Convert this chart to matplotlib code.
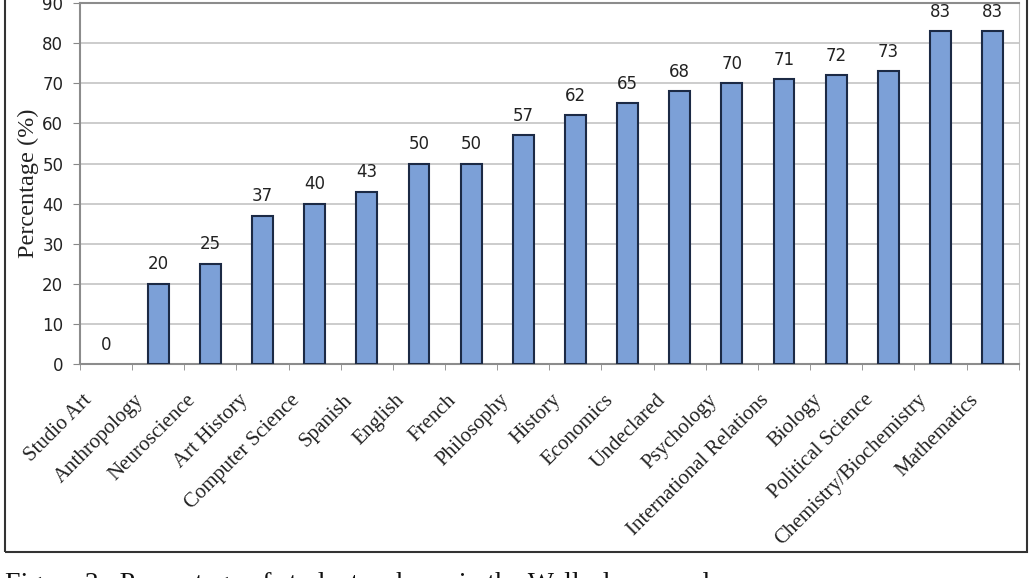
import matplotlib
matplotlib.use("Agg")
import matplotlib.pyplot as plt
from matplotlib.patches import Rectangle
from matplotlib.transforms import ScaledTranslation
import numpy as np

# data
majors = ['Studio Art', 'Anthropology', 'Neuroscience', 'Art History', 'Computer Science',
          'Spanish', 'English', 'French', 'Philosophy', 'History', 'Economics', 'Undeclared',
          'Psychology', 'International Relations', 'Biology', 'Political Science',
          'Chemistry/Biochemistry', 'Mathematics']
percent = [0, 20, 25, 37, 40, 43, 50, 50, 57, 62, 65, 68, 70, 71, 72, 73, 83, 83]
yticks = [0, 10, 20, 30, 40, 50, 60, 70, 80, 90]

serif = ['Liberation Serif', 'DejaVu Serif']
sans = ['DejaVu Sans']

fig = plt.figure(figsize=(10.3, 5.78), dpi=100)
ax = fig.add_axes([0.0777, 0.370, 0.9113, 0.6248])

x = np.arange(len(majors))
lw = [1.5 if v > 0 else 0 for v in percent]
ax.bar(x, percent, width=0.4, color='#7ca0d7', edgecolor='#1c2a45', linewidth=lw, zorder=3)
for xi, v in zip(x, percent):
    ax.text(xi, v + 2.6, str(v), ha='center', va='bottom', fontsize=12,
            family=sans, color='#222222')

ax.set_xlim(-0.5, len(majors) - 0.5)
ax.set_ylim(0, 90)
ax.set_yticks(yticks)
ax.set_yticklabels([str(t) for t in yticks], family=sans, fontsize=12, color='#222222')
ax.set_xticks(x)
ax.set_xticklabels(majors, rotation=45, ha='right', rotation_mode='anchor',
                   family=serif, fontsize=15, color='#222222')
ax.tick_params(axis='x', length=0, pad=19)
shift = ScaledTranslation(-24 / 100, 0, fig.dpi_scale_trans)
for lab in ax.get_xticklabels():
    lab.set_transform(lab.get_transform() + shift)
ax.set_xticks(np.arange(-0.5, len(majors)), minor=True)
ax.tick_params(axis='x', which='minor', length=4, color='#888888')
ax.tick_params(axis='y', length=5, color='#888888', pad=7)

ax.grid(axis='y', color='#c4c4c4', linewidth=1.2, zorder=0)
for s in ['left', 'bottom', 'top']:
    ax.spines[s].set_color('#8c8c8c')
    ax.spines[s].set_linewidth(1.5)
ax.spines['right'].set_color('#c4c4c4')
ax.set_ylabel('Percentage (%)', family=serif, fontsize=17.5, color='#222222', labelpad=2)

# outer frame round the chart
fig.patches.append(Rectangle((5 / 1030, 1 - 552 / 578), 1022 / 1030, 552 / 578 + 0.05,
                             transform=fig.transFigure, fill=False,
                             edgecolor='#333333', linewidth=1.5))

# caption, cut by the bottom edge as in the reference
fig.text(5 / 1030, 1 - 572 / 578,
         'Figure 3.  Percentage of students who ... in the Wellesley sample',
         family=serif, fontsize=20, va='top', ha='left', color='#111111')

fig.savefig('out.png', dpi=100)
